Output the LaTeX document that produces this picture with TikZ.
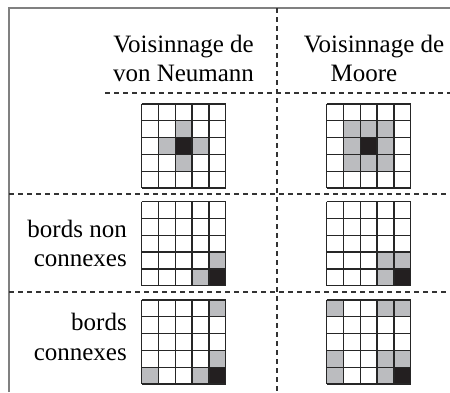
\documentclass[tikz,border=0pt]{standalone}
\usepackage{fontspec}
\setmainfont{Liberation Serif}
\newfontfamily\timesfont{Liberation Serif}
\definecolor{cellgray}{HTML}{BBBCBF}
\definecolor{cellblack}{HTML}{231F20}
\tikzset{
  gridline/.style={draw=black!85, line width=1.3pt},
  frameline/.style={draw=black!50, line width=2pt},
  sepline/.style={draw=black!80, line width=1.3pt, dash pattern=on 5pt off 4pt},
  lbl/.style={font=\timesfont\fontsize{25}{30}\selectfont, inner sep=0pt},
}
\newcommand\mygrid[4]{%
  \begin{scope}[shift={(#1,#2)}]
    \foreach \r/\c in {#3} \fill[cellgray] (\c*16.8,\r*16.8) rectangle ++(16.8,16.8);
    \foreach \r/\c in {#4} \fill[cellblack] (\c*16.8,\r*16.8) rectangle ++(16.8,16.8);
    \foreach \i in {0,...,5} {
      \draw[gridline] (\i*16.8,0) -- (\i*16.8,84);
      \draw[gridline] (0,\i*16.8) -- (84,\i*16.8);
    }
  \end{scope}}
\begin{document}
\begin{tikzpicture}[x=1pt,y=-1pt]
  \useasboundingbox (0,0) rectangle (450,392);
  % frame
  \coordinate (tl) at (9,8);
  \coordinate (tr) at (450,8);
  \coordinate (bl) at (9,392);
  \draw[frameline] (bl) -- (tl) -- (tr);
  % separators
  \coordinate (vtop) at (277,8);
  \coordinate (vbot) at (277,392);
  \draw[sepline] (vtop) -- (vbot);
  \coordinate (h1a) at (105,93);  \coordinate (h1b) at (450,93);
  \coordinate (h2a) at (9,194);   \coordinate (h2b) at (450,194);
  \coordinate (h3a) at (9,292);   \coordinate (h3b) at (450,292);
  \draw[sepline] (h1a) -- (h1b);
  \draw[sepline] (h2a) -- (h2b);
  \draw[sepline] (h3a) -- (h3b);
  % headers
  \node[lbl, anchor=base] (vn1) at (183.5,52.3) {Voisinnage de};
  \node[lbl, anchor=base] (vn2) at (183.5,81) {von Neumann};
  \node[lbl, anchor=base] (mo1) at (374,52.3) {Voisinnage de};
  \node[lbl, anchor=base] (mo2) at (364,81) {Moore};
  % row labels
  \node[lbl, anchor=base east] (r1a) at (127,237.3) {bords non};
  \node[lbl, anchor=base east] (r1b) at (127,266.7) {connexes};
  \node[lbl, anchor=base east] (r2a) at (127,330) {bords};
  \node[lbl, anchor=base east] (r2b) at (127,360) {connexes};
  % grids
  \mygrid{141.7}{104}{1/2,2/1,2/3,3/2}{2/2}
  \mygrid{326.7}{104}{1/1,1/2,1/3,2/1,2/3,3/1,3/2,3/3}{2/2}
  \mygrid{141.7}{201.7}{3/4,4/3}{4/4}
  \mygrid{326.7}{201.7}{3/3,3/4,4/3}{4/4}
  \mygrid{141.7}{300}{0/4,3/4,4/0,4/3}{4/4}
  \mygrid{326.7}{300}{0/0,0/3,0/4,3/0,3/3,3/4,4/0,4/3}{4/4}
\end{tikzpicture}
\end{document}
